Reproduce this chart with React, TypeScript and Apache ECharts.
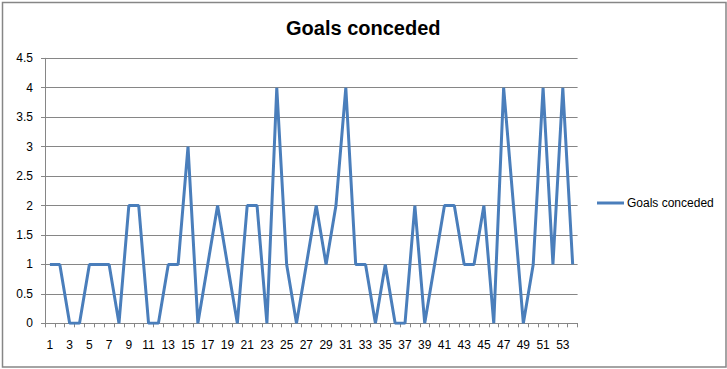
import React, { useEffect, useRef } from "react";
import * as echarts from "echarts";

const categories: string[] = [
  "1","2","3","4","5","6","7","8","9","10","11","12","13","14","15","16","17","18",
  "19","20","21","22","23","24","25","26","27","28","29","30","31","32","33","34","35","36",
  "37","38","39","40","41","42","43","44","45","46","47","48","49","50","51","52","53","54",
];
const goalsConceded: number[] = [
  1, 1, 0, 0, 1, 1, 1, 0, 2, 2, 0, 0, 1, 1, 3, 0, 1, 2,
  1, 0, 2, 2, 0, 4, 1, 0, 1, 2, 1, 2, 4, 1, 1, 0, 1, 0,
  0, 2, 0, 1, 2, 2, 1, 1, 2, 0, 4, 2, 0, 1, 4, 1, 4, 1,
];
const seriesName = "Goals conceded";
const titleText = "Goals conceded";

const FONT = "'Liberation Sans', Arial, sans-serif";
const GRID = "#868686";

export default function App() {
  const ref = useRef<HTMLDivElement>(null);
  useEffect(() => {
    if (!ref.current) return;
    const chart = echarts.init(ref.current, undefined, { renderer: "svg" });
    chart.setOption({
      animation: false,
      backgroundColor: "#ffffff",
      title: {
        text: titleText,
        left: 286,
        top: 18,
        padding: 0,
        textStyle: { fontFamily: FONT, fontSize: 20, fontWeight: "bold", color: "#000" },
      },
      legend: {
        data: [seriesName],
        left: 597,
        top: 197,
        padding: 0,
        icon: "rect",
        itemWidth: 27,
        itemHeight: 3,
        textStyle: { fontFamily: FONT, fontSize: 12, color: "#000", padding: [0, 0, 0, -2] },
      },
      grid: { left: 45, top: 58.3, right: 149.4, bottom: 45.7, containLabel: false },
      xAxis: {
        type: "category",
        data: categories,
        boundaryGap: true,
        axisLine: { lineStyle: { color: GRID, width: 1 } },
        axisTick: { show: true, interval: 0, length: 4, lineStyle: { color: GRID } },
        axisLabel: { interval: 1, margin: 16, color: "#000", fontFamily: FONT, fontSize: 12 },
        splitLine: { show: false },
      },
      yAxis: {
        type: "value",
        min: 0,
        max: 4.5,
        interval: 0.5,
        axisLine: { show: true, lineStyle: { color: GRID, width: 1 } },
        axisTick: { show: true, length: 4, lineStyle: { color: GRID } },
        axisLabel: { margin: 12, color: "#000", fontFamily: FONT, fontSize: 12 },
        splitLine: { show: true, lineStyle: { color: GRID, width: 1 } },
      },
      series: [
        {
          name: seriesName,
          type: "line",
          data: goalsConceded,
          symbol: "none",
          color: "#4a7ebb",
          lineStyle: { width: 3, color: "#4a7ebb" },
        },
      ],
      graphic: [
        {
          type: "rect",
          shape: { x: 2.5, y: 2.5, width: 723.5, height: 364.5 },
          style: { fill: "none", stroke: "#868686", lineWidth: 1.5 },
          silent: true,
        },
      ],
    });
    return () => chart.dispose();
  }, []);
  return (
    <div
      ref={ref}
      style={{ position: "fixed", left: 0, top: 0, width: 727, height: 369, background: "#fff" }}
    />
  );
}
